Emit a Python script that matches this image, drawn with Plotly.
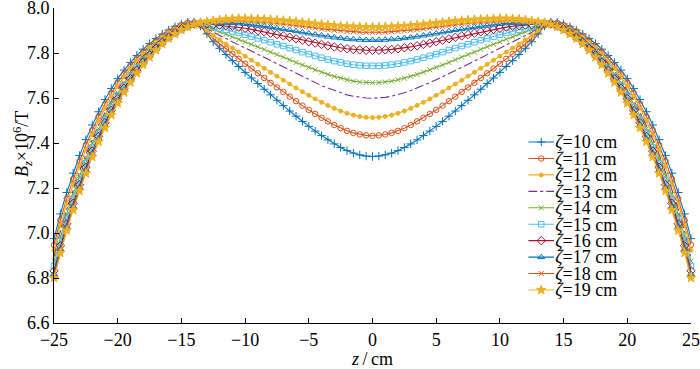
import plotly.graph_objects as go

z = [-25.0, -24.5, -24.0, -23.5, -23.0, -22.5, -22.0, -21.5, -21.0, -20.5,
     -20.0, -19.5, -19.0, -18.5, -18.0, -17.5, -17.0, -16.5, -16.0, -15.5,
     -15.0, -14.5, -14.0, -13.5, -13.0, -12.5, -12.0, -11.5, -11.0, -10.5,
     -10.0, -9.5, -9.0, -8.5, -8.0, -7.5, -7.0, -6.5, -6.0, -5.5,
     -5.0, -4.5, -4.0, -3.5, -3.0, -2.5, -2.0, -1.5, -1.0, -0.5,
     0.0, 0.5, 1.0, 1.5, 2.0, 2.5, 3.0, 3.5, 4.0, 4.5,
     5.0, 5.5, 6.0, 6.5, 7.0, 7.5, 8.0, 8.5, 9.0, 9.5,
     10.0, 10.5, 11.0, 11.5, 12.0, 12.5, 13.0, 13.5, 14.0, 14.5,
     15.0, 15.5, 16.0, 16.5, 17.0, 17.5, 18.0, 18.5, 19.0, 19.5,
     20.0, 20.5, 21.0, 21.5, 22.0, 22.5, 23.0, 23.5, 24.0, 24.5, 25.0]

b_z10 = [6.975, 7.085, 7.180, 7.266, 7.344, 7.415, 7.480, 7.539, 7.593, 7.642,
         7.686, 7.724, 7.758, 7.789, 7.817, 7.842, 7.864, 7.884, 7.902, 7.917,
         7.929, 7.937, 7.938, 7.920, 7.885, 7.850, 7.821, 7.793, 7.766, 7.740,
         7.714, 7.689, 7.664, 7.639, 7.614, 7.590, 7.566, 7.542, 7.519, 7.496,
         7.474, 7.453, 7.433, 7.414, 7.396, 7.380, 7.366, 7.355, 7.347, 7.342,
         7.340, 7.342, 7.347, 7.355, 7.366, 7.380, 7.396, 7.414, 7.433, 7.453,
         7.474, 7.496, 7.519, 7.542, 7.566, 7.590, 7.614, 7.639, 7.664, 7.689,
         7.714, 7.740, 7.766, 7.793, 7.821, 7.850, 7.885, 7.920, 7.938, 7.937,
         7.929, 7.917, 7.902, 7.884, 7.864, 7.842, 7.817, 7.789, 7.758, 7.724,
         7.686, 7.642, 7.593, 7.539, 7.480, 7.415, 7.344, 7.266, 7.180, 7.085, 6.975]

b_z11 = [6.947, 7.057, 7.153, 7.240, 7.319, 7.391, 7.457, 7.518, 7.573, 7.623,
         7.669, 7.708, 7.744, 7.776, 7.806, 7.832, 7.856, 7.877, 7.896, 7.912,
         7.925, 7.934, 7.936, 7.922, 7.894, 7.865, 7.841, 7.818, 7.796, 7.774,
         7.752, 7.731, 7.710, 7.689, 7.667, 7.647, 7.627, 7.606, 7.586, 7.566,
         7.547, 7.529, 7.512, 7.496, 7.480, 7.466, 7.454, 7.445, 7.438, 7.434,
         7.432, 7.434, 7.438, 7.445, 7.454, 7.466, 7.480, 7.496, 7.512, 7.529,
         7.547, 7.566, 7.586, 7.606, 7.627, 7.647, 7.667, 7.689, 7.710, 7.731,
         7.752, 7.774, 7.796, 7.818, 7.841, 7.865, 7.894, 7.922, 7.936, 7.934,
         7.925, 7.912, 7.896, 7.877, 7.856, 7.832, 7.806, 7.776, 7.744, 7.708,
         7.669, 7.623, 7.573, 7.518, 7.457, 7.391, 7.319, 7.240, 7.153, 7.057, 6.947]

b_z12 = [6.923, 7.033, 7.129, 7.217, 7.297, 7.370, 7.437, 7.499, 7.555, 7.607,
         7.653, 7.694, 7.731, 7.765, 7.796, 7.824, 7.848, 7.871, 7.891, 7.907,
         7.921, 7.931, 7.935, 7.925, 7.901, 7.878, 7.859, 7.840, 7.822, 7.804,
         7.786, 7.768, 7.750, 7.732, 7.714, 7.697, 7.679, 7.662, 7.645, 7.628,
         7.612, 7.596, 7.581, 7.567, 7.554, 7.542, 7.532, 7.524, 7.518, 7.514,
         7.513, 7.514, 7.518, 7.524, 7.532, 7.542, 7.554, 7.567, 7.581, 7.596,
         7.612, 7.628, 7.645, 7.662, 7.679, 7.697, 7.714, 7.732, 7.750, 7.768,
         7.786, 7.804, 7.822, 7.840, 7.859, 7.878, 7.901, 7.925, 7.935, 7.931,
         7.921, 7.907, 7.891, 7.871, 7.848, 7.824, 7.796, 7.765, 7.731, 7.694,
         7.653, 7.607, 7.555, 7.499, 7.437, 7.370, 7.297, 7.217, 7.129, 7.033, 6.923]

b_z13 = [6.896, 7.007, 7.104, 7.192, 7.273, 7.348, 7.416, 7.479, 7.536, 7.589,
         7.637, 7.679, 7.718, 7.753, 7.786, 7.815, 7.841, 7.864, 7.885, 7.902,
         7.917, 7.928, 7.933, 7.927, 7.909, 7.892, 7.878, 7.864, 7.850, 7.836,
         7.822, 7.807, 7.793, 7.779, 7.764, 7.750, 7.736, 7.722, 7.708, 7.694,
         7.681, 7.668, 7.655, 7.644, 7.633, 7.623, 7.614, 7.608, 7.603, 7.600,
         7.599, 7.600, 7.603, 7.608, 7.614, 7.623, 7.633, 7.644, 7.655, 7.668,
         7.681, 7.694, 7.708, 7.722, 7.736, 7.750, 7.764, 7.779, 7.793, 7.807,
         7.822, 7.836, 7.850, 7.864, 7.878, 7.892, 7.909, 7.927, 7.933, 7.928,
         7.917, 7.902, 7.885, 7.864, 7.841, 7.815, 7.786, 7.753, 7.718, 7.679,
         7.637, 7.589, 7.536, 7.479, 7.416, 7.348, 7.273, 7.192, 7.104, 7.007, 6.896]

b_z14 = [6.875, 6.986, 7.084, 7.173, 7.255, 7.330, 7.399, 7.463, 7.521, 7.575,
         7.624, 7.668, 7.707, 7.744, 7.777, 7.807, 7.834, 7.859, 7.880, 7.898,
         7.914, 7.925, 7.932, 7.929, 7.916, 7.903, 7.893, 7.883, 7.872, 7.861,
         7.850, 7.839, 7.828, 7.816, 7.804, 7.793, 7.782, 7.770, 7.758, 7.747,
         7.736, 7.725, 7.715, 7.705, 7.696, 7.688, 7.681, 7.675, 7.671, 7.669,
         7.668, 7.669, 7.671, 7.675, 7.681, 7.688, 7.696, 7.705, 7.715, 7.725,
         7.736, 7.747, 7.758, 7.770, 7.782, 7.793, 7.804, 7.816, 7.828, 7.839,
         7.850, 7.861, 7.872, 7.883, 7.893, 7.903, 7.916, 7.929, 7.932, 7.925,
         7.914, 7.898, 7.880, 7.859, 7.834, 7.807, 7.777, 7.744, 7.707, 7.668,
         7.624, 7.575, 7.521, 7.463, 7.399, 7.330, 7.255, 7.173, 7.084, 6.986, 6.875]

b_z15 = [6.853, 6.964, 7.062, 7.151, 7.234, 7.310, 7.381, 7.445, 7.505, 7.559,
         7.610, 7.655, 7.696, 7.734, 7.768, 7.799, 7.828, 7.853, 7.875, 7.894,
         7.910, 7.922, 7.930, 7.931, 7.923, 7.915, 7.909, 7.903, 7.896, 7.889,
         7.881, 7.873, 7.865, 7.857, 7.848, 7.839, 7.831, 7.822, 7.813, 7.804,
         7.795, 7.787, 7.779, 7.771, 7.764, 7.758, 7.752, 7.748, 7.745, 7.743,
         7.743, 7.743, 7.745, 7.748, 7.752, 7.758, 7.764, 7.771, 7.779, 7.787,
         7.795, 7.804, 7.813, 7.822, 7.831, 7.839, 7.848, 7.857, 7.865, 7.873,
         7.881, 7.889, 7.896, 7.903, 7.909, 7.915, 7.923, 7.931, 7.930, 7.922,
         7.910, 7.894, 7.875, 7.853, 7.828, 7.799, 7.768, 7.734, 7.696, 7.655,
         7.610, 7.559, 7.505, 7.445, 7.381, 7.310, 7.234, 7.151, 7.062, 6.964, 6.853]

b_z16 = [6.832, 6.943, 7.041, 7.132, 7.215, 7.292, 7.364, 7.429, 7.490, 7.545,
         7.597, 7.643, 7.685, 7.724, 7.760, 7.792, 7.821, 7.848, 7.871, 7.890,
         7.907, 7.920, 7.929, 7.932, 7.929, 7.926, 7.924, 7.922, 7.919, 7.915,
         7.910, 7.905, 7.899, 7.894, 7.888, 7.882, 7.876, 7.870, 7.863, 7.857,
         7.850, 7.844, 7.838, 7.832, 7.827, 7.823, 7.819, 7.816, 7.814, 7.812,
         7.812, 7.812, 7.814, 7.816, 7.819, 7.823, 7.827, 7.832, 7.838, 7.844,
         7.850, 7.857, 7.863, 7.870, 7.876, 7.882, 7.888, 7.894, 7.899, 7.905,
         7.910, 7.915, 7.919, 7.922, 7.924, 7.926, 7.929, 7.932, 7.929, 7.920,
         7.907, 7.890, 7.871, 7.848, 7.821, 7.792, 7.760, 7.724, 7.685, 7.643,
         7.597, 7.545, 7.490, 7.429, 7.364, 7.292, 7.215, 7.132, 7.041, 6.943, 6.832]

b_z17 = [6.818, 6.929, 7.028, 7.118, 7.203, 7.280, 7.352, 7.418, 7.480, 7.536,
         7.588, 7.635, 7.678, 7.718, 7.754, 7.787, 7.817, 7.844, 7.868, 7.887,
         7.905, 7.918, 7.928, 7.934, 7.934, 7.934, 7.934, 7.934, 7.933, 7.932,
         7.929, 7.926, 7.922, 7.919, 7.915, 7.910, 7.906, 7.902, 7.897, 7.892,
         7.887, 7.882, 7.878, 7.873, 7.869, 7.866, 7.863, 7.861, 7.859, 7.858,
         7.858, 7.858, 7.859, 7.861, 7.863, 7.866, 7.869, 7.873, 7.878, 7.882,
         7.887, 7.892, 7.897, 7.902, 7.906, 7.910, 7.915, 7.919, 7.922, 7.926,
         7.929, 7.932, 7.933, 7.934, 7.934, 7.934, 7.934, 7.934, 7.928, 7.918,
         7.905, 7.887, 7.868, 7.844, 7.817, 7.787, 7.754, 7.718, 7.678, 7.635,
         7.588, 7.536, 7.480, 7.418, 7.352, 7.280, 7.203, 7.118, 7.028, 6.929, 6.818]

b_z18 = [6.807, 6.919, 7.018, 7.109, 7.193, 7.271, 7.344, 7.410, 7.472, 7.529,
         7.581, 7.629, 7.673, 7.713, 7.750, 7.783, 7.814, 7.842, 7.866, 7.885,
         7.903, 7.917, 7.927, 7.934, 7.937, 7.939, 7.942, 7.944, 7.945, 7.945,
         7.943, 7.942, 7.940, 7.938, 7.935, 7.932, 7.929, 7.926, 7.922, 7.918,
         7.915, 7.911, 7.907, 7.904, 7.901, 7.898, 7.896, 7.895, 7.893, 7.892,
         7.892, 7.892, 7.893, 7.895, 7.896, 7.898, 7.901, 7.904, 7.907, 7.911,
         7.915, 7.918, 7.922, 7.926, 7.929, 7.932, 7.935, 7.938, 7.940, 7.942,
         7.943, 7.945, 7.945, 7.944, 7.942, 7.939, 7.937, 7.934, 7.927, 7.917,
         7.903, 7.885, 7.866, 7.842, 7.814, 7.783, 7.750, 7.713, 7.673, 7.629,
         7.581, 7.529, 7.472, 7.410, 7.344, 7.271, 7.193, 7.109, 7.018, 6.919, 6.807]

b_z19 = [6.800, 6.912, 7.011, 7.102, 7.187, 7.265, 7.338, 7.405, 7.467, 7.524,
         7.577, 7.625, 7.669, 7.710, 7.747, 7.781, 7.812, 7.840, 7.864, 7.884,
         7.902, 7.916, 7.927, 7.935, 7.939, 7.943, 7.947, 7.950, 7.952, 7.953,
         7.953, 7.952, 7.951, 7.950, 7.948, 7.946, 7.944, 7.942, 7.939, 7.936,
         7.933, 7.930, 7.927, 7.924, 7.922, 7.920, 7.918, 7.917, 7.916, 7.915,
         7.915, 7.915, 7.916, 7.917, 7.918, 7.920, 7.922, 7.924, 7.927, 7.930,
         7.933, 7.936, 7.939, 7.942, 7.944, 7.946, 7.948, 7.950, 7.951, 7.952,
         7.953, 7.953, 7.952, 7.950, 7.947, 7.943, 7.939, 7.935, 7.927, 7.916,
         7.902, 7.884, 7.864, 7.840, 7.812, 7.781, 7.747, 7.710, 7.669, 7.625,
         7.577, 7.524, 7.467, 7.405, 7.338, 7.265, 7.187, 7.102, 7.011, 6.912, 6.800]

zeta_values = [10, 11, 12, 13, 14, 15, 16, 17, 18, 19]
series = [b_z10, b_z11, b_z12, b_z13, b_z14, b_z15, b_z16, b_z17, b_z18, b_z19]

x_ticks = [-25, -20, -15, -10, -5, 0, 5, 10, 15, 20, 25]
y_ticks = [6.6, 6.8, 7.0, 7.2, 7.4, 7.6, 7.8, 8.0]

# styles
colors = ["#0072BD", "#D95319", "#EDB120", "#7E2F8E", "#77AC30",
          "#4DBEEE", "#A2142F", "#0072BD", "#D95319", "#EDB120"]
symbols = ["cross-thin-open", "circle-open", "circle", None, "x-thin-open",
           "square-open", "diamond-open", "triangle-up-open", "x-thin-open", "star"]
msizes = [6, 5.5, 4, 0, 5, 5.5, 6.5, 6, 5, 7]
dashes = ["solid"] * 10
dashes[3] = "dashdot"

FONT = "Liberation Serif"

fig = go.Figure()

labels = [f"z{v}" for v in zeta_values]
label_html = ["<i>ζ</i>=%d cm" % v for v in zeta_values]

for i, ys in enumerate(series):
    mode = "lines" if symbols[i] is None else "lines+markers"
    marker = dict(color=colors[i], size=msizes[i], line=dict(color=colors[i], width=1))
    if symbols[i] is not None:
        marker["symbol"] = symbols[i]
    fig.add_trace(go.Scatter(
        x=z, y=ys, mode=mode, showlegend=False, cliponaxis=False,
        line=dict(color=colors[i], width=1.1, dash=dashes[i]),
        marker=marker,
    ))

# legend drawn on a small helper axis (categories = series labels)
for i in range(len(series)):
    mode = "lines" if symbols[i] is None else "lines+markers"
    marker = dict(color=colors[i], size=msizes[i], opacity=[0, 1, 0],
                  line=dict(color=colors[i], width=1))
    if symbols[i] is not None:
        marker["symbol"] = symbols[i]
    fig.add_trace(go.Scatter(
        x=[0, 0.5, 1], y=[labels[i]] * 3, xaxis="x2", yaxis="y2",
        mode=mode, showlegend=False, cliponaxis=False,
        line=dict(color=colors[i], width=1.1, dash=dashes[i]),
        marker=marker,
    ))

axis_common = dict(showline=True, linecolor="black", linewidth=1, ticks="inside",
                   ticklen=5, tickcolor="black", showgrid=False, zeroline=False,
                   mirror=False, automargin=False, ticklabeloverflow="allow",
                   tickfont=dict(family=FONT, size=18, color="black"))

fig.update_layout(
    width=700, height=369,
    margin=dict(l=54, r=9, t=8, b=46),
    paper_bgcolor="white", plot_bgcolor="white",
    font=dict(family=FONT, color="black"),
    xaxis=dict(range=[-25, 25], tickvals=x_ticks,
               title=dict(text="<i>z</i>\u2009/\u2009cm", font=dict(family=FONT, size=18),
                          standoff=0),
               **axis_common),
    yaxis=dict(range=[6.6, 8.0], tickvals=y_ticks, tickformat=".1f", **axis_common),
    xaxis2=dict(domain=[0.7445, 0.7853], range=[0, 1], visible=False, anchor="y2",
                automargin=False, fixedrange=True),
    yaxis2=dict(domain=[0.0787, 0.6006], anchor="x2", side="right", type="category",
                categoryorder="array", categoryarray=labels, range=[9.5, -0.5],
                tickmode="array", tickvals=labels, ticktext=label_html,
                showline=False, showgrid=False, zeroline=False, ticks="",
                automargin=False,
                tickfont=dict(family=FONT, size=18, color="black")),
    annotations=[dict(
        text="<i>B</i><sub><i>z</i></sub>×10<sup>6</sup>/T",
        xref="paper", yref="paper", x=-0.0502, y=0.568,
        xanchor="center", yanchor="middle", textangle=-90, showarrow=False,
        font=dict(family=FONT, size=18, color="black"),
    )],
)

fig.write_html(
    "out.html",
    config={"displayModeBar": False},
    post_script="document.body.style.margin='0';document.body.style.overflow='hidden';",
)
